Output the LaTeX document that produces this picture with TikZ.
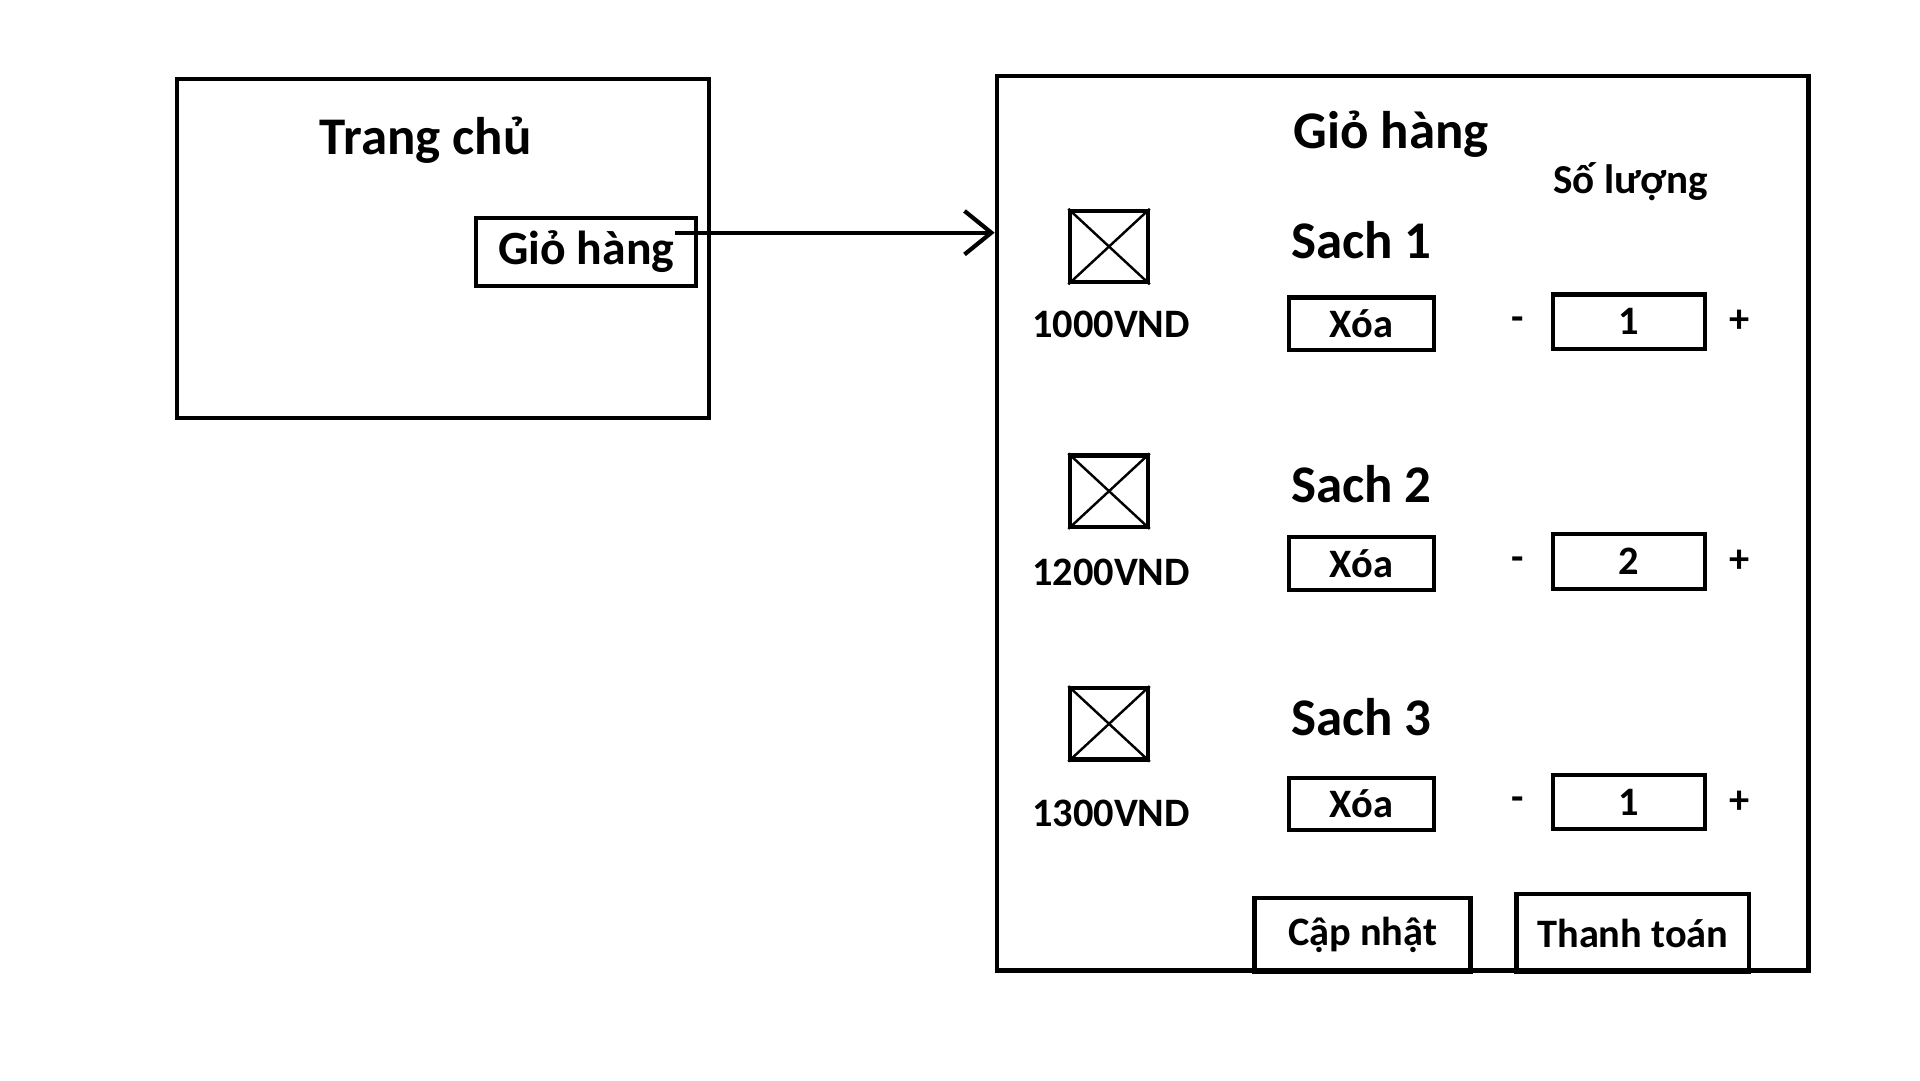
\documentclass[tikz,border=0pt]{standalone}
\usepackage{fontspec}
\setmainfont{Carlito}
\usetikzlibrary{arrows.meta}
\tikzset{
        box/.style={draw, line width=1.2pt, inner sep=0pt},
        big/.style={font=\fontsize{15.2}{17}\selectfont\bfseries},
        mid/.style={font=\fontsize{11.6}{13}\selectfont\bfseries},
        cross/.style={line width=.7pt},
}

\begin{document}
\begin{tikzpicture}[x=0.01cm, y=-0.01cm]
        \useasboundingbox (0,0) rectangle (1939,1091);
        \node[box, minimum width=5.37cm, minimum height=3.42cm] (home) at (447.5,251) {};
        \node[big] (hometitle) at (430,142) {Trang chủ};
        \node[box, minimum width=2.22cm, minimum height=0.69cm, font=\fontsize{13.7}{15}\selectfont\bfseries] (cartbtn) at (592,254.5) {Giỏ hàng};
        \node[box, line width=1.3pt, minimum width=8.19cm, minimum height=9.03cm] (cart) at (1416.5,528.5) {};
        \node[big] (carttitle) at (1405,136) {Giỏ hàng};
        \node[font=\fontsize{11.8}{14}\selectfont\bfseries] (qtylabel) at (1647,183) {Số lượng};
        \coordinate (from) at (682,235);
        \draw[line width=1.2pt, -{Straight Barb[length=7.7pt,width=12.5pt]}] (from) -- (from -| cart.west);
        \foreach \i/\y/\dy/\py/\price/\q in {1/0/0/0/1000/1, 2/247/242/250/1200/2, 3/482/485/493/1300/1}
        {
        \node[box, minimum width=0.78cm, minimum height=0.72cm] (img\i) at (1120,{249+\y}) {};
        \draw[cross] (img\i.north west) -- (img\i.south east);
        \draw[cross] (img\i.north east) -- (img\i.south west);
        \node[big] (book\i) at (1375,{242+\y}) {Sach \i};
        \node[mid] (price\i) at (1122,{328+\py}) {\price VND};
        \node[box, mid, minimum width=1.47cm, minimum height=0.53cm] (del\i) at (1375,{327+\dy}) {Xóa};
        \node[mid] (minus\i) at (1533,{327+\dy}) {-};
        \node[box, mid, minimum width=1.53cm, minimum height=0.55cm] (qty\i) at (1645,{325+\dy}) {\q};
        \node[mid] (plus\i) at (1757,{325+\dy}) {+};
        }
        \node[box, mid, minimum width=2.18cm, minimum height=0.74cm] (update) at (1376,944) {Cập nhật};
        \node[box, mid, minimum width=2.35cm, minimum height=0.79cm] (pay) at (1649,942.5) {Thanh toán};
\end{tikzpicture}
\end{document}
